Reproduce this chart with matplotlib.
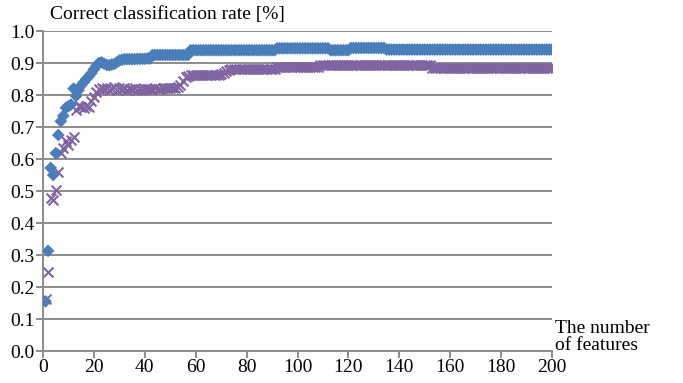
import matplotlib
matplotlib.use("Agg")
import matplotlib.pyplot as plt
import numpy as np

features = list(range(1, 201))

blue_rate = [
    0.155, 0.313, 0.572, 0.550, 0.618, 0.675, 0.718, 0.735, 0.760, 0.765,
    0.770, 0.820, 0.797, 0.815, 0.830, 0.840, 0.850, 0.858, 0.868, 0.880,
    0.892, 0.900, 0.902, 0.898, 0.894, 0.893, 0.895, 0.897, 0.902, 0.908,
    0.910, 0.912, 0.912, 0.912, 0.912, 0.912, 0.913, 0.913, 0.913, 0.913,
    0.914, 0.914, 0.925, 0.925, 0.925, 0.925, 0.925, 0.925, 0.925, 0.925,
    0.925, 0.925, 0.925, 0.925, 0.925, 0.925, 0.925, 0.940, 0.940, 0.940,
    0.940, 0.940, 0.940, 0.940, 0.940, 0.940, 0.940, 0.940, 0.940, 0.940,
    0.940, 0.940, 0.940, 0.940, 0.940, 0.940, 0.940, 0.940, 0.940, 0.940,
    0.940, 0.940, 0.940, 0.940, 0.940, 0.940, 0.940, 0.940, 0.940, 0.940,
    0.940, 0.946, 0.946, 0.946, 0.946, 0.946, 0.946, 0.946, 0.946, 0.946,
    0.946, 0.946, 0.946, 0.946, 0.946, 0.946, 0.946, 0.946, 0.946, 0.946,
    0.946, 0.946, 0.940, 0.940, 0.940, 0.940, 0.940, 0.940, 0.940, 0.940,
    0.947, 0.947, 0.947, 0.947, 0.947, 0.947, 0.947, 0.947, 0.947, 0.947,
    0.947, 0.947, 0.947, 0.947, 0.942, 0.942, 0.942, 0.942, 0.942, 0.942,
    0.942, 0.942, 0.942, 0.942, 0.942, 0.942, 0.942, 0.942, 0.942, 0.942,
    0.942, 0.942, 0.942, 0.942, 0.942, 0.942, 0.942, 0.942, 0.942, 0.942,
    0.942, 0.942, 0.942, 0.942, 0.942, 0.942, 0.942, 0.942, 0.942, 0.942,
    0.942, 0.942, 0.942, 0.942, 0.942, 0.942, 0.942, 0.942, 0.942, 0.942,
    0.942, 0.942, 0.942, 0.942, 0.942, 0.942, 0.942, 0.942, 0.942, 0.942,
    0.942, 0.942, 0.942, 0.942, 0.942, 0.942, 0.942, 0.942, 0.942, 0.942,
]

purple_rate = [
    0.162, 0.248, 0.477, 0.472, 0.503, 0.560, 0.618, 0.633, 0.655, 0.645,
    0.660, 0.670, 0.753, 0.765, 0.762, 0.760, 0.765, 0.763, 0.780, 0.795,
    0.810, 0.820, 0.822, 0.818, 0.823, 0.815, 0.820, 0.824, 0.817, 0.822,
    0.818, 0.823, 0.815, 0.820, 0.818, 0.822, 0.816, 0.820, 0.815, 0.818,
    0.820, 0.818, 0.820, 0.822, 0.820, 0.820, 0.822, 0.822, 0.822, 0.822,
    0.822, 0.822, 0.825, 0.832, 0.845, 0.855, 0.860, 0.862, 0.862, 0.862,
    0.862, 0.862, 0.862, 0.862, 0.862, 0.862, 0.862, 0.862, 0.862, 0.866,
    0.870, 0.874, 0.878, 0.880, 0.880, 0.880, 0.880, 0.880, 0.880, 0.880,
    0.880, 0.880, 0.880, 0.880, 0.880, 0.880, 0.880, 0.880, 0.880, 0.880,
    0.880, 0.886, 0.886, 0.886, 0.886, 0.886, 0.886, 0.886, 0.886, 0.886,
    0.886, 0.886, 0.886, 0.886, 0.886, 0.886, 0.886, 0.886, 0.893, 0.893,
    0.893, 0.893, 0.893, 0.893, 0.893, 0.893, 0.893, 0.893, 0.893, 0.893,
    0.893, 0.893, 0.893, 0.893, 0.893, 0.893, 0.893, 0.893, 0.893, 0.893,
    0.893, 0.893, 0.893, 0.893, 0.893, 0.893, 0.893, 0.893, 0.893, 0.893,
    0.893, 0.893, 0.893, 0.893, 0.893, 0.893, 0.893, 0.893, 0.893, 0.893,
    0.893, 0.893, 0.884, 0.884, 0.884, 0.884, 0.884, 0.884, 0.884, 0.884,
    0.884, 0.884, 0.884, 0.884, 0.884, 0.884, 0.884, 0.884, 0.884, 0.884,
    0.884, 0.884, 0.884, 0.884, 0.884, 0.884, 0.884, 0.884, 0.884, 0.884,
    0.884, 0.884, 0.884, 0.884, 0.884, 0.884, 0.884, 0.884, 0.884, 0.884,
    0.884, 0.884, 0.884, 0.884, 0.884, 0.884, 0.884, 0.884, 0.884, 0.884,
]

x_ticks = [0, 20, 40, 60, 80, 100, 120, 140, 160, 180, 200]
y_ticks = [0.0, 0.1, 0.2, 0.3, 0.4, 0.5, 0.6, 0.7, 0.8, 0.9, 1.0]

plt.rcParams['font.family'] = ['Liberation Serif', 'DejaVu Serif']
FS = 14

W, H = 683, 383
fig = plt.figure(figsize=(W / 100, H / 100), dpi=100)
ax = fig.add_axes([43 / W, 1 - 351 / H, (552 - 43) / W, (351 - 31) / H])

grid_c = '#8c8c8c'
for yv in y_ticks[1:]:
    ax.axhline(yv, color=grid_c, lw=1.4, zorder=1)

ax.scatter(features, purple_rate, marker='x', s=50, color='#8064A2', linewidths=1.5, zorder=3)
ax.scatter(features, blue_rate, marker='D', s=42, color='#4A7EBB', edgecolors='none', zorder=4)

ax.set_xlim(0, 200)
ax.set_ylim(0, 1.0)
ax.set_xticks(x_ticks)
ax.set_yticks(y_ticks)
ax.set_xticklabels([str(v) for v in x_ticks])
ax.set_yticklabels([f"{v:.1f}" for v in y_ticks])
for s in ['top', 'right']:
    ax.spines[s].set_visible(False)
for s in ['left', 'bottom']:
    ax.spines[s].set_color(grid_c)
    ax.spines[s].set_linewidth(1.4)
ax.tick_params(axis='both', direction='out', length=5, width=1.4, color=grid_c,
               labelsize=FS, pad=1)

fig.text(50 / W, 1 - 15 / H, 'Correct classification rate [%]', fontsize=FS,
         ha='left', va='center')
fig.text(555 / W, 1 - 337 / H, 'The number\nof features', fontsize=FS,
         ha='left', va='center', linespacing=0.95)

fig.savefig('out.png', dpi=100)
